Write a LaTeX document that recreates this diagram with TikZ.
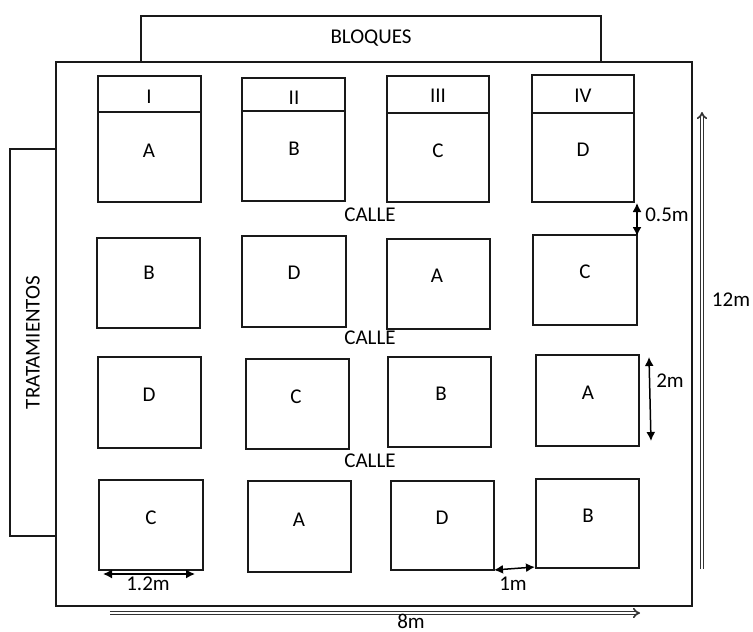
\documentclass[tikz,border=0pt]{standalone}
\usepackage{fontspec}
\setmainfont{Carlito}
\usetikzlibrary{arrows.meta}
\begin{document}
\begin{tikzpicture}[x=1pt,y=-1pt,
  box/.style={draw=black!90,line width=2pt,inner sep=0pt},
  txt/.style={font=\fontsize{21}{24}\selectfont,text=black,inner sep=0pt},
  dim/.style={line width=1.5pt,{Latex[length=9pt,width=9pt]}-{Latex[length=9pt,width=9pt]}},
  bigarrow/.style={draw=black!80,double=white,double distance=1.6pt,line width=1.6pt,-{Implies[length=6pt]}}]
\useasboundingbox (0,0) rectangle (753,632);
% frames
\draw[box] (141,62) -- (141,16) -- (601,16) -- (601,62);
\node[txt] (bloques) at (371,38) {BLOQUES};
\draw[box] (56,62) rectangle (692,606);
\node[box,minimum width=46pt,minimum height=387pt] (trat) at (33,342.5) {};
\node[txt,rotate=90] (tratlbl) at (trat.center) {TRATAMIENTOS};
% row 1 with headers
\draw[box] (98,76) rectangle (201,202); \draw[box] (98,112) -- (201,112);
\draw[box] (242,78) rectangle (345,201); \draw[box] (242,111) -- (345,111);
\draw[box] (387,76) rectangle (489,202); \draw[box] (387,113) -- (489,113);
\draw[box] (532,75) rectangle (634,202); \draw[box] (532,113) -- (634,113);
\node[txt] (h1) at (149,97) {I};
\node[txt] (h2) at (294,98) {II};
\node[txt] (h3) at (438,96) {III};
\node[txt] (h4) at (583,96) {IV};
\node[txt] (r1a) at (149,151) {A};
\node[txt] (r1b) at (294,149) {B};
\node[txt] (r1c) at (438,151) {C};
\node[txt] (r1d) at (583,150) {D};
% row 2
\draw[box] (97,238) rectangle (200,328);
\draw[box] (242,236) rectangle (346,327);
\draw[box] (387,239) rectangle (490,329);
\draw[box] (533,235) rectangle (637,325);
\node[txt] (r2b) at (149,273) {B};
\node[txt] (r2d) at (294,273) {D};
\node[txt] (r2a) at (437,276) {A};
\node[txt] (r2c) at (585,272) {C};
% row 3
\draw[box] (98,357) rectangle (201,448);
\draw[box] (246,359) rectangle (349,449);
\draw[box] (388,357) rectangle (491,447);
\draw[box] (536,355) rectangle (639,446);
\node[txt] (r3d) at (149,395) {D};
\node[txt] (r3c) at (296,397) {C};
\node[txt] (r3b) at (441,394) {B};
\node[txt] (r3a) at (588,393) {A};
% row 4
\draw[box] (99,480) rectangle (203,570);
\draw[box] (248,481) rectangle (351,572);
\draw[box] (391,481) rectangle (494,570);
\draw[box] (536,479) rectangle (639,568);
\node[txt] (r4c) at (151,518) {C};
\node[txt] (r4a) at (299,520) {A};
\node[txt] (r4d) at (442,518) {D};
\node[txt] (r4b) at (588,516) {B};
% streets
\node[txt] (calle1) at (370,215) {CALLE};
\node[txt] (calle2) at (370,338) {CALLE};
\node[txt] (calle3) at (370,461) {CALLE};
% dimensions
\coordinate (d05a) at (637,203); \coordinate (d05b) at (637,236);
\draw[dim] (d05a) -- (d05b);
\node[txt] (l05) at (667,215) {0.5m};
\coordinate (d2a) at (649,357); \coordinate (d2b) at (651,441);
\draw[dim] (d2a) -- (d2b);
\node[txt] (l2) at (670,381) {2m};
\coordinate (d12a) at (103,574); \coordinate (d12b) at (195,574);
\draw[dim] (d12a) -- (d12b);
\node[txt] (l12) at (148,584) {1.2m};
\coordinate (d1a) at (494,570); \coordinate (d1b) at (535,567);
\draw[dim] (d1a) -- (d1b);
\node[txt] (l1) at (513,584) {1m};
\coordinate (v12a) at (702,569); \coordinate (v12b) at (702,112);
\draw[bigarrow] (v12a) -- (v12b);
\node[txt] (l12m) at (731,300) {12m};
\coordinate (h8a) at (110,613); \coordinate (h8b) at (640,613);
\draw[bigarrow] (h8a) -- (h8b);
\node[txt] (l8m) at (411,621) {8m};
\end{tikzpicture}
\end{document}
